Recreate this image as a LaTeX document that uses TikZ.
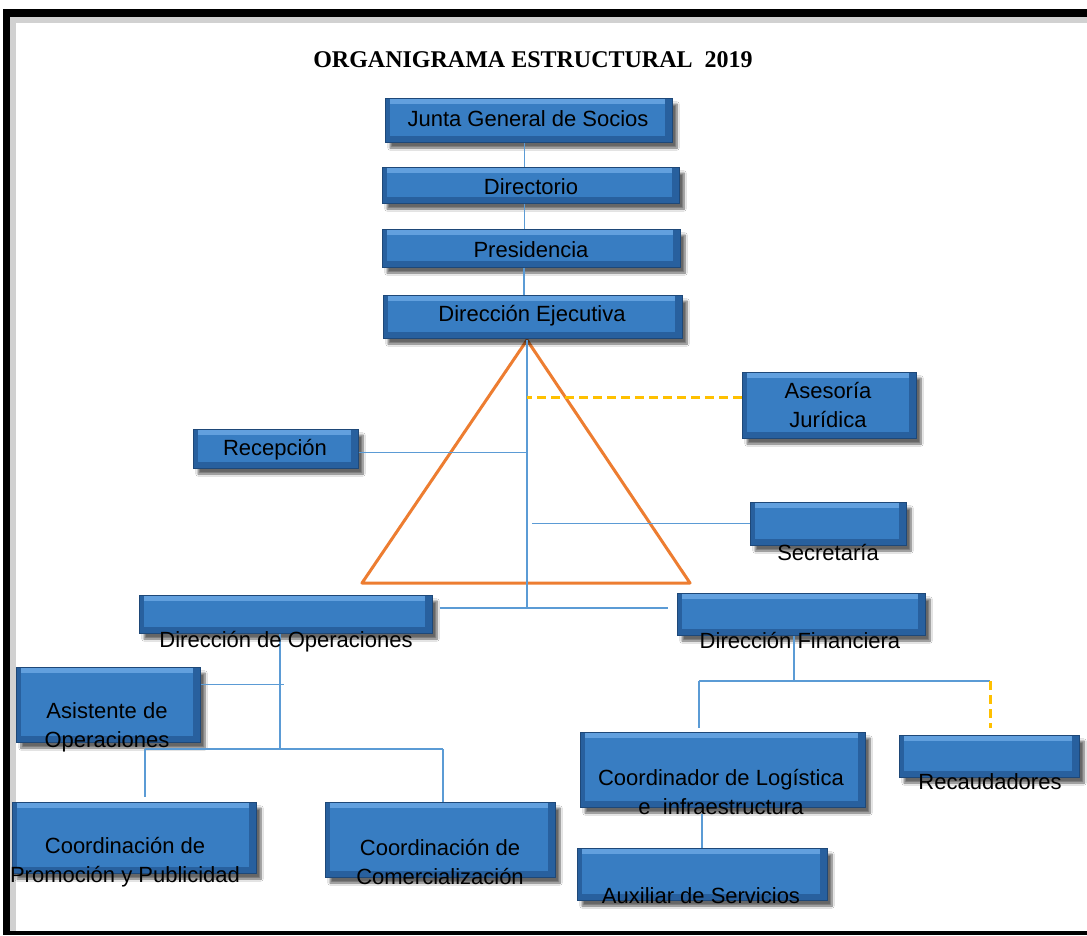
\documentclass[tikz,border=0pt]{standalone}
\usepackage{fontspec}
\setmainfont{Liberation Sans}
\newfontfamily\titlefont{Liberation Serif}
\usepackage{tikz}
\usetikzlibrary{shadows,shadows.blur}
\definecolor{boxblue}{RGB}{56,125,194}
\definecolor{boxlight}{RGB}{98,160,222}
\definecolor{boxmid}{RGB}{40,96,158}
\definecolor{boxdark}{RGB}{30,72,120}
\definecolor{lineblue}{RGB}{91,155,213}
\definecolor{triorange}{RGB}{237,125,49}
\definecolor{gold}{RGB}{255,192,0}

\begin{document}
\begin{tikzpicture}[x=1pt,y=-1pt,
	box/.style={fill=boxblue, draw=boxdark, line width=1pt, inner sep=0pt,
		blur shadow={shadow xshift=5pt, shadow yshift=-6pt, shadow blur steps=8, shadow opacity=60},
		path picture={
			\fill[boxlight] (path picture bounding box.north west) rectangle ([yshift=-6pt]path picture bounding box.north east);
			\fill[boxmid] (path picture bounding box.south west) rectangle ([yshift=6pt]path picture bounding box.south east);
			\fill[boxmid] (path picture bounding box.north east) rectangle ([xshift=-7pt]path picture bounding box.south east);
			\fill[boxmid] (path picture bounding box.north west) rectangle ([xshift=5pt]path picture bounding box.south west);}},
	txt/.style={align=center, inner sep=0pt, font=\fontsize{22}{29}\selectfont},
	conn/.style={draw=lineblue, line width=1.5pt},
	dashln/.style={draw=gold, line width=3pt, dash pattern=on 9pt off 5pt},
	tri/.style={draw=triorange, line width=3pt, line join=round}]

	\useasboundingbox (0,0) rectangle (1087,935);
	\fill[white] (0,0) rectangle (1087,935);
	\fill[black!18] (10,17) rectangle (1087,23);
	\fill[black!18] (10,17) rectangle (16,931);

	\node[font=\titlefont\bfseries\fontsize{24}{28}\selectfont] (titulo) at (533,60) {ORGANIGRAMA ESTRUCTURAL\ \ 2019};

	\coordinate (apex) at (527,340);
	\coordinate (trunk) at (527,608);
	\coordinate (tl) at (362,583);
	\coordinate (tr) at (690,583);
	\coordinate (opjoin) at (280,749);
	\coordinate (promtop) at (145,749);
	\coordinate (comtop) at (443,749);
	\coordinate (finjoin) at (794,681);
	\coordinate (logtop) at (699,681);
	\coordinate (rectop) at (990,681);

	\draw[tri] (apex) -- (tl) -- (tr) -- cycle;

	\node[box, minimum width=287pt, minimum height=44pt] (jun) at (528.5,120) {};
	\node[box, minimum width=297pt, minimum height=36pt] (dir) at (530.5,185) {};
	\node[box, minimum width=298pt, minimum height=38pt] (pre) at (531,248) {};
	\node[box, minimum width=299pt, minimum height=43pt] (eje) at (532.5,316.5) {};
	\node[box, minimum width=174pt, minimum height=66pt] (ase) at (829,405) {};
	\node[box, minimum width=165pt, minimum height=39pt] (rec) at (275.5,448.5) {};
	\node[box, minimum width=156pt, minimum height=43pt] (sec) at (828,523.5) {};
	\node[box, minimum width=293pt, minimum height=38pt] (dop) at (285.5,614) {};
	\node[box, minimum width=248pt, minimum height=42pt] (dfi) at (801,614) {};
	\node[box, minimum width=184pt, minimum height=75pt] (asi) at (108,704.5) {};
	\node[box, minimum width=244pt, minimum height=71pt] (cpp) at (134,837.5) {};
	\node[box, minimum width=230pt, minimum height=75pt] (cco) at (440,839.5) {};
	\node[box, minimum width=285pt, minimum height=75pt] (clo) at (722.5,769.5) {};
	\node[box, minimum width=180pt, minimum height=42pt] (rcd) at (989,756) {};
	\node[box, minimum width=250pt, minimum height=52pt] (aux) at (702,874) {};

	\draw[conn] ([xshift=-4pt]jun.south) -- ([xshift=-4pt]jun.south |- dir.north);
	\draw[conn] ([xshift=-6pt]dir.south) -- ([xshift=-6pt]dir.south |- pre.north);
	\draw[conn] ([xshift=-7pt]pre.south) -- ([xshift=-7pt]pre.south |- eje.north);
	\draw[conn] (apex) -- (trunk);
	\draw[dashln] ([yshift=8pt]ase.west) -- ([yshift=8pt]ase.west -| apex);
	\draw[conn] ([yshift=-4pt]rec.east) -- ([yshift=-4pt]rec.east -| apex);
	\draw[conn] (sec.west) -- ([xshift=5pt]sec.west -| apex);
	\draw[conn] ([xshift=7pt]dop.east |- trunk) -- ([xshift=-9pt]dfi.west |- trunk);
	\draw[conn] (dop.south -| opjoin) -- (opjoin);
	\draw[conn] ([yshift=20pt]asi.east) -- ([yshift=20pt,xshift=4pt]asi.east -| opjoin);
	\draw[conn] (promtop) -- (comtop);
	\draw[conn] (promtop) -- ([yshift=5pt]promtop |- cpp.north);
	\draw[conn] (comtop) -- (comtop |- cco.north);
	\draw[conn] (dfi.south -| finjoin) -- (finjoin);
	\draw[conn] (logtop) -- (rectop);
	\draw[conn] (logtop) -- ([yshift=4pt]logtop |- clo.north);
	\draw[dashln] (rectop) -- ([yshift=7pt]rectop |- rcd.north);
	\draw[conn] ([yshift=-6pt]clo.south -| aux.north) -- (aux.north);

	\node[txt] (jun-t) at (528,119) {Junta General de Socios};
	\node[txt] (dir-t) at (531,187) {Directorio};
	\node[txt] (pre-t) at (531,250) {Presidencia};
	\node[txt] (eje-t) at (532,316) {Dirección Ejecutiva};
	\node[txt] (ase-t) at (828,405) {Asesoría\\Jurídica};
	\node[txt] (rec-t) at (275,450) {Recepción};
	\node[txt] (sec-t) at (828,552) {Secretaría};
	\node[txt] (dop-t) at (286,642) {Dirección de Operaciones};
	\node[txt] (dfi-t) at (800,640) {Dirección Financiera};
	\node[txt] (asi-t) at (107,727) {Asistente de\\Operaciones};
	\node[txt] (cpp-t) at (125,862) {Coordinación de\\Promoción y Publicidad};
	\node[txt] (cco-t) at (440,862) {Coordinación de\\Comercialización};
	\node[txt] (clo-t) at (721,792) {Coordinador de Logística\\e\ \ infraestructura};
	\node[txt] (rcd-t) at (990,782) {Recaudadores};
	\node[txt] (aux-t) at (701,896) {Auxiliar de Servicios};

	\fill[black] (3,9) rectangle (1087,17);
	\fill[black] (3,9) rectangle (10,935);
	\fill[black] (3,931) rectangle (1087,935);

\end{tikzpicture}
\end{document}
